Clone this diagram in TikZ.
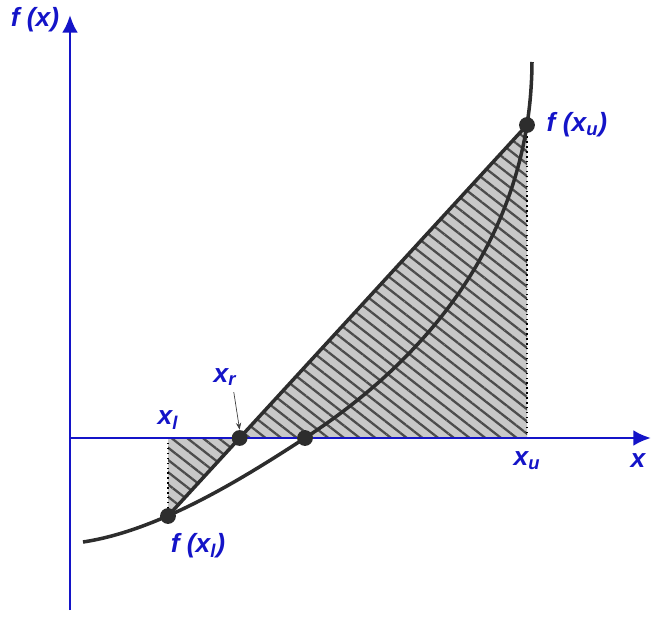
\documentclass[tikz,border=0pt]{standalone}
\usepackage{fontspec}
\setmainfont{Liberation Sans}
\usetikzlibrary{arrows.meta,positioning,calc,patterns.meta}
\definecolor{axblue}{RGB}{20,20,200}
\definecolor{curvegray}{RGB}{45,45,45}
\definecolor{hatchgray}{RGB}{200,200,200}

\begin{document}
\begin{tikzpicture}[every node/.style={font=\fontsize{15}{18}\selectfont\bfseries\itshape,text=axblue},
    axis/.style={axblue,line width=1.6pt,-{Latex[length=10pt,width=9pt]}},
    graph/.style={curvegray,line width=2pt},
    dot/.style={circle,fill=curvegray,inner sep=0pt,minimum size=9pt}]
  \useasboundingbox (-1.4,-3.7) rectangle (11.64,8.76);
  % Points
  \coordinate (o) at (0,0);
  \coordinate (ybot) at (0,-3.44);
  \coordinate (ytop) at (0,8.46);
  \coordinate (xend) at (11.62,0);
  \coordinate (xl) at (1.96,0);
  \coordinate (xu) at (9.14,0);
  \coordinate (fl) at (1.96,-1.56);
  \coordinate (fu) at (9.14,6.26);
  \coordinate (xr) at ($(fl)!{1.56/7.82}!(fu)$);
  \coordinate (root) at (4.7,0);
  % Hatched area
  \fill[hatchgray] (xl) -- (fl) -- (fu) -- (xu) -- cycle;
  \fill[pattern={Lines[angle=-38,distance=5.5pt,line width=1.3pt]},pattern color=black!70]
    (xl) -- (fl) -- (fu) -- (xu) -- cycle;
  \draw[dotted,thick] (xl) -- (fl);
  \draw[dotted,thick] (xu) -- (fu);
  % Axes
  \draw[axis] (ybot) -- (ytop);
  \draw[axis] (o) -- (xend);
  % Function and secant
  \draw[graph] (0.26,-2.08) .. controls (1.8,-1.85) and (3.5,-0.78) .. (root)
    .. controls (7.1,1.56) and (9.22,4.0) .. (9.24,7.52);
  \draw[graph] (fl) -- (fu);
  % Dots
  \foreach \p in {fl,fu,xr,root}{
    \node[dot] (d\p) at (\p) {};
  }
  % Labels
  \node at (-0.7,8.36) {f (x)};
  \node[right=3pt of dfu] {f (x\textsubscript{u})};
  \node at (2.56,-2.16) {f (x\textsubscript{l})};
  \node at (1.96,0.36) {x\textsubscript{l}};
  \node at (9.14,-0.46) {x\textsubscript{u}};
  \node at (11.36,-0.46) {x};
  \node (xrlab) at (3.1,1.22) {x\textsubscript{r}};
  \draw[black!75,thin,-{Stealth[length=4pt]}] ([xshift=-5pt]xrlab.south east) -- (dxr.north);
\end{tikzpicture}
\end{document}
